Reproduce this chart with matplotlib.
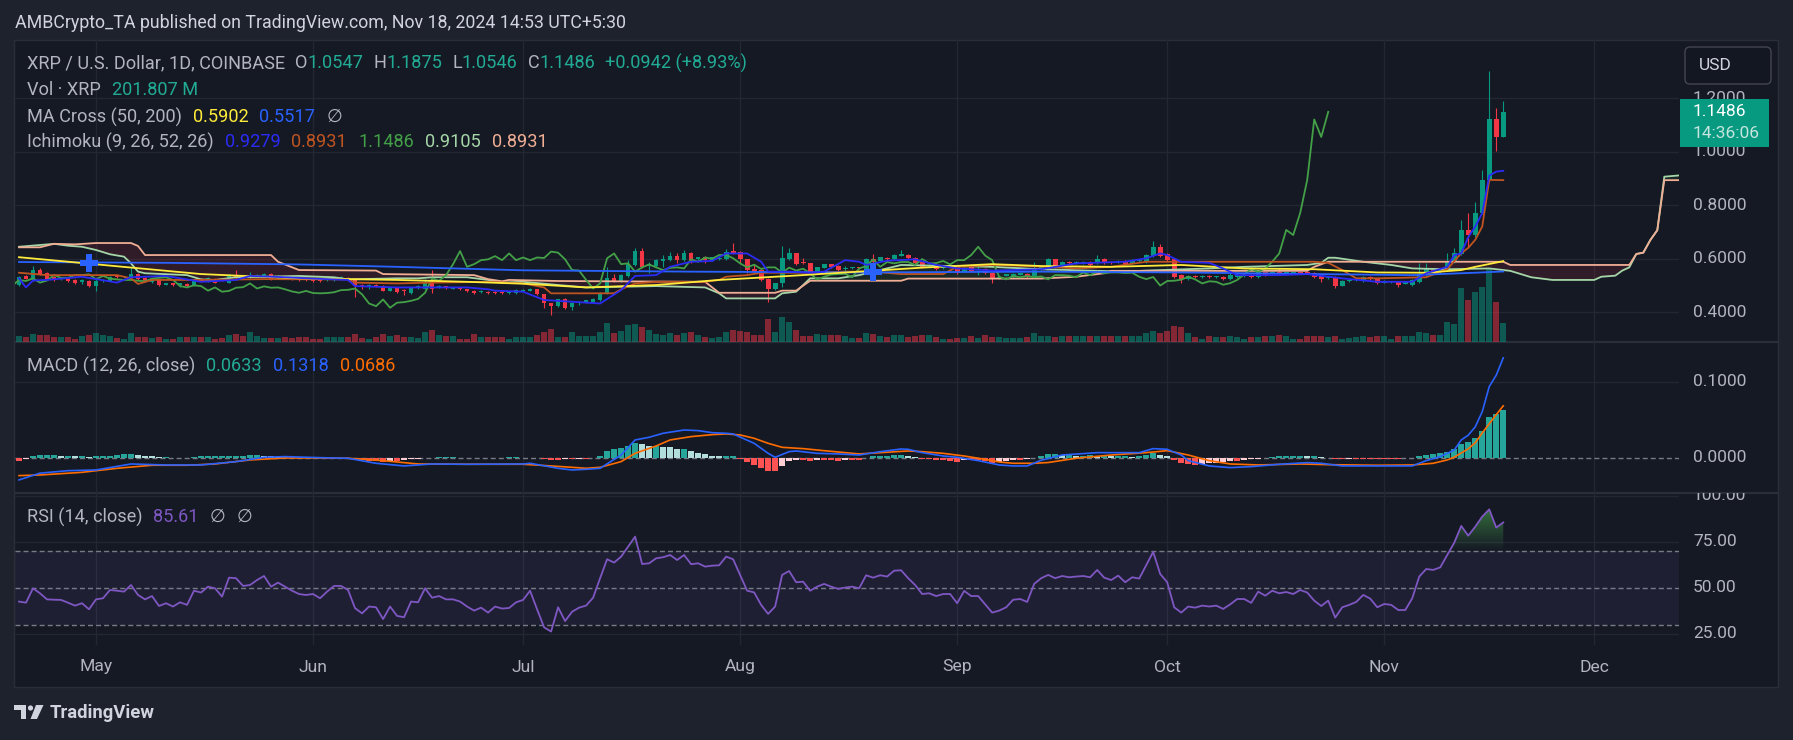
import matplotlib
matplotlib.use("Agg")
import matplotlib.pyplot as plt
from matplotlib.patches import Rectangle, FancyBboxPatch, Polygon, Circle
from matplotlib.colors import ListedColormap
from matplotlib.path import Path
import numpy as np
import pandas as pd

# ======================= DATA =======================
start_date = "2024-04-20"          # first daily candle
title_text = "AMBCrypto_TA published on TradingView.com, Nov 18, 2024 14:53 UTC+5:30"
symbol_text = "XRP / U.S. Dollar, 1D, COINBASE"
countdown = "14:36:06"
month_labels = ["May", "Jun", "Jul", "Aug", "Sep", "Oct", "Nov", "Dec"]
price_ticks = [0.4, 0.6, 0.8, 1.0, 1.2]
macd_ticks = [0.0, 0.1]
rsi_ticks = [25, 50, 75, 100]

open_ = [
    0.501, 0.535, 0.520, 0.557, 0.547, 0.530, 0.523, 0.527, 0.520, 0.513,
    0.516, 0.497, 0.517, 0.517, 0.537, 0.530, 0.528, 0.542, 0.528, 0.513,
    0.523, 0.502, 0.508, 0.502, 0.505, 0.500, 0.522, 0.516, 0.523, 0.522,
    0.510, 0.535, 0.535, 0.530, 0.532, 0.532, 0.542, 0.526, 0.533, 0.530,
    0.526, 0.526, 0.525, 0.522, 0.520, 0.520, 0.527, 0.528, 0.522, 0.500,
    0.492, 0.501, 0.497, 0.480, 0.492, 0.481, 0.472, 0.491, 0.488, 0.507,
    0.492, 0.493, 0.488, 0.488, 0.485, 0.480, 0.475, 0.476, 0.474, 0.476,
    0.470, 0.470, 0.479, 0.480, 0.485, 0.466, 0.432, 0.422, 0.449, 0.417,
    0.432, 0.439, 0.439, 0.445, 0.472, 0.528, 0.517, 0.535, 0.576, 0.628,
    0.572, 0.572, 0.591, 0.594, 0.609, 0.594, 0.622, 0.597, 0.607, 0.594,
    0.599, 0.597, 0.628, 0.626, 0.597, 0.561, 0.557, 0.523, 0.488, 0.507,
    0.599, 0.619, 0.586, 0.582, 0.551, 0.566, 0.578, 0.572, 0.561, 0.563,
    0.567, 0.560, 0.597, 0.592, 0.603, 0.597, 0.611, 0.613, 0.601, 0.588,
    0.573, 0.573, 0.563, 0.571, 0.569, 0.551, 0.569, 0.557, 0.560, 0.547,
    0.527, 0.536, 0.532, 0.540, 0.542, 0.535, 0.560, 0.569, 0.597, 0.569,
    0.588, 0.583, 0.583, 0.588, 0.582, 0.598, 0.587, 0.586, 0.591, 0.584,
    0.591, 0.588, 0.609, 0.642, 0.617, 0.597, 0.538, 0.522, 0.535, 0.530,
    0.536, 0.531, 0.532, 0.522, 0.530, 0.533, 0.538, 0.530, 0.548, 0.541,
    0.551, 0.546, 0.546, 0.548, 0.551, 0.547, 0.535, 0.528, 0.530, 0.499,
    0.515, 0.518, 0.517, 0.532, 0.526, 0.510, 0.511, 0.513, 0.506, 0.502,
    0.513, 0.538, 0.557, 0.548, 0.557, 0.588, 0.617, 0.707, 0.688, 0.771,
    0.894, 1.120, 1.0547]
high_ = [
    0.535, 0.538, 0.572, 0.563, 0.551, 0.535, 0.530, 0.530, 0.523, 0.523,
    0.520, 0.522, 0.525, 0.535, 0.540, 0.535, 0.569, 0.547, 0.532, 0.528,
    0.527, 0.510, 0.510, 0.510, 0.508, 0.523, 0.527, 0.530, 0.527, 0.525,
    0.542, 0.557, 0.538, 0.551, 0.542, 0.545, 0.545, 0.538, 0.537, 0.533,
    0.530, 0.529, 0.528, 0.526, 0.528, 0.532, 0.533, 0.532, 0.525, 0.503,
    0.503, 0.504, 0.500, 0.495, 0.495, 0.488, 0.494, 0.501, 0.522, 0.557,
    0.500, 0.496, 0.495, 0.491, 0.488, 0.483, 0.482, 0.479, 0.477, 0.479,
    0.477, 0.486, 0.487, 0.491, 0.488, 0.468, 0.435, 0.450, 0.452, 0.438,
    0.441, 0.446, 0.452, 0.476, 0.569, 0.542, 0.542, 0.594, 0.641, 0.638,
    0.588, 0.598, 0.613, 0.626, 0.619, 0.632, 0.626, 0.607, 0.610, 0.607,
    0.605, 0.636, 0.657, 0.629, 0.600, 0.576, 0.560, 0.526, 0.510, 0.647,
    0.641, 0.622, 0.601, 0.585, 0.570, 0.581, 0.581, 0.575, 0.572, 0.570,
    0.570, 0.601, 0.617, 0.607, 0.607, 0.617, 0.632, 0.617, 0.604, 0.591,
    0.580, 0.576, 0.570, 0.574, 0.572, 0.569, 0.572, 0.572, 0.563, 0.550,
    0.535, 0.543, 0.545, 0.547, 0.545, 0.588, 0.575, 0.601, 0.600, 0.590,
    0.591, 0.590, 0.590, 0.591, 0.613, 0.603, 0.590, 0.594, 0.594, 0.598,
    0.598, 0.617, 0.664, 0.654, 0.620, 0.601, 0.541, 0.538, 0.538, 0.538,
    0.539, 0.536, 0.535, 0.545, 0.541, 0.539, 0.541, 0.551, 0.551, 0.554,
    0.563, 0.551, 0.551, 0.551, 0.555, 0.550, 0.538, 0.534, 0.533, 0.519,
    0.520, 0.524, 0.535, 0.535, 0.529, 0.518, 0.516, 0.516, 0.511, 0.523,
    0.582, 0.582, 0.560, 0.566, 0.622, 0.638, 0.744, 0.769, 0.813, 0.931,
    1.301, 1.161, 1.1875]
low_ = [
    0.497, 0.522, 0.517, 0.538, 0.522, 0.517, 0.520, 0.513, 0.505, 0.505,
    0.494, 0.480, 0.513, 0.515, 0.527, 0.527, 0.525, 0.520, 0.513, 0.510,
    0.497, 0.500, 0.497, 0.492, 0.494, 0.497, 0.513, 0.513, 0.507, 0.515,
    0.507, 0.525, 0.525, 0.527, 0.530, 0.530, 0.520, 0.523, 0.522, 0.520,
    0.517, 0.516, 0.514, 0.512, 0.517, 0.517, 0.524, 0.517, 0.457, 0.488,
    0.488, 0.494, 0.477, 0.477, 0.472, 0.464, 0.469, 0.488, 0.485, 0.472,
    0.489, 0.488, 0.485, 0.482, 0.474, 0.469, 0.472, 0.468, 0.467, 0.468,
    0.467, 0.467, 0.476, 0.477, 0.462, 0.414, 0.389, 0.418, 0.412, 0.407,
    0.428, 0.435, 0.436, 0.442, 0.469, 0.513, 0.514, 0.532, 0.572, 0.565,
    0.545, 0.569, 0.569, 0.591, 0.582, 0.591, 0.584, 0.594, 0.584, 0.591,
    0.595, 0.594, 0.618, 0.582, 0.547, 0.551, 0.517, 0.437, 0.484, 0.492,
    0.594, 0.576, 0.579, 0.547, 0.547, 0.563, 0.563, 0.554, 0.555, 0.560,
    0.560, 0.557, 0.584, 0.589, 0.596, 0.594, 0.608, 0.598, 0.579, 0.563,
    0.570, 0.557, 0.560, 0.563, 0.543, 0.548, 0.551, 0.538, 0.541, 0.507,
    0.524, 0.533, 0.529, 0.537, 0.527, 0.532, 0.557, 0.566, 0.566, 0.566,
    0.579, 0.580, 0.580, 0.573, 0.579, 0.578, 0.580, 0.583, 0.575, 0.581,
    0.588, 0.585, 0.606, 0.607, 0.590, 0.528, 0.510, 0.518, 0.527, 0.527,
    0.527, 0.528, 0.519, 0.519, 0.527, 0.530, 0.527, 0.527, 0.535, 0.538,
    0.541, 0.543, 0.543, 0.543, 0.544, 0.529, 0.513, 0.525, 0.489, 0.496,
    0.512, 0.515, 0.514, 0.519, 0.504, 0.507, 0.508, 0.495, 0.503, 0.499,
    0.510, 0.535, 0.548, 0.545, 0.554, 0.585, 0.613, 0.644, 0.682, 0.765,
    0.885, 1.003, 1.0546]
close_ = [
    0.530, 0.525, 0.557, 0.542, 0.525, 0.522, 0.527, 0.515, 0.510, 0.520,
    0.497, 0.517, 0.521, 0.532, 0.530, 0.532, 0.542, 0.523, 0.517, 0.525,
    0.501, 0.507, 0.500, 0.507, 0.497, 0.520, 0.516, 0.526, 0.510, 0.518,
    0.538, 0.528, 0.528, 0.538, 0.538, 0.541, 0.523, 0.535, 0.525, 0.522,
    0.520, 0.520, 0.517, 0.515, 0.525, 0.528, 0.530, 0.520, 0.497, 0.492,
    0.500, 0.497, 0.480, 0.492, 0.476, 0.479, 0.491, 0.493, 0.507, 0.488,
    0.496, 0.491, 0.492, 0.485, 0.477, 0.472, 0.479, 0.471, 0.470, 0.471,
    0.474, 0.482, 0.483, 0.488, 0.466, 0.432, 0.422, 0.447, 0.416, 0.435,
    0.437, 0.442, 0.449, 0.472, 0.526, 0.517, 0.538, 0.579, 0.628, 0.569,
    0.579, 0.594, 0.597, 0.609, 0.594, 0.619, 0.594, 0.604, 0.594, 0.604,
    0.602, 0.626, 0.622, 0.597, 0.557, 0.555, 0.520, 0.488, 0.507, 0.601,
    0.619, 0.579, 0.582, 0.551, 0.567, 0.578, 0.567, 0.557, 0.565, 0.567,
    0.563, 0.597, 0.588, 0.604, 0.599, 0.613, 0.614, 0.601, 0.582, 0.567,
    0.577, 0.561, 0.567, 0.567, 0.547, 0.566, 0.555, 0.562, 0.545, 0.522,
    0.532, 0.540, 0.542, 0.543, 0.530, 0.563, 0.572, 0.597, 0.569, 0.587,
    0.582, 0.587, 0.587, 0.576, 0.598, 0.582, 0.583, 0.591, 0.578, 0.594,
    0.594, 0.613, 0.644, 0.611, 0.594, 0.532, 0.522, 0.535, 0.530, 0.535,
    0.530, 0.533, 0.522, 0.538, 0.538, 0.536, 0.530, 0.548, 0.538, 0.551,
    0.545, 0.548, 0.548, 0.546, 0.547, 0.532, 0.523, 0.531, 0.499, 0.516,
    0.517, 0.521, 0.532, 0.522, 0.507, 0.515, 0.513, 0.502, 0.508, 0.520,
    0.541, 0.560, 0.551, 0.563, 0.588, 0.619, 0.707, 0.688, 0.771, 0.894,
    1.120, 1.0544, 1.1486]
volume_m = [
    64, 53, 85, 74, 74, 53, 53, 53, 32, 64,
    74, 96, 74, 64, 42, 32, 96, 53, 53, 42,
    53, 32, 32, 53, 53, 53, 53, 53, 32, 42,
    74, 85, 64, 106, 64, 42, 42, 42, 53, 42,
    53, 53, 32, 32, 53, 53, 53, 53, 85, 42,
    32, 53, 85, 64, 74, 53, 53, 42, 106, 127,
    74, 64, 64, 32, 32, 85, 53, 53, 53, 53,
    32, 53, 53, 53, 74, 106, 138, 53, 53, 106,
    64, 64, 64, 106, 202, 96, 117, 181, 191, 159,
    127, 85, 74, 96, 74, 96, 106, 74, 53, 42,
    53, 106, 127, 117, 106, 74, 74, 244, 106, 266,
    212, 127, 64, 64, 85, 74, 74, 74, 64, 42,
    42, 96, 85, 64, 53, 74, 74, 53, 64, 74,
    74, 53, 32, 32, 42, 42, 64, 42, 74, 53,
    53, 42, 42, 42, 53, 96, 64, 67, 50, 67,
    60, 60, 67, 67, 60, 60, 60, 67, 60, 67,
    67, 96, 120, 96, 120, 173, 159, 96, 50, 35,
    60, 50, 50, 67, 50, 35, 50, 50, 67, 60,
    78, 60, 35, 35, 60, 60, 60, 50, 67, 35,
    42, 50, 60, 50, 60, 67, 35, 60, 60, 60,
    106, 96, 78, 78, 216, 195, 573, 450, 531, 584,
    786, 425, 201.807]

# MA Cross (50, 200)
ma50_days = [0, 12, 26, 40, 54, 64, 72, 81, 91, 100, 110, 120, 129, 139, 146, 156,
             166, 175, 185, 194, 201, 206, 208, 212]
ma50_vals = [0.605, 0.576, 0.542, 0.526, 0.520, 0.513, 0.506, 0.492, 0.501, 0.520,
             0.535, 0.551, 0.566, 0.579, 0.572, 0.569, 0.576, 0.563, 0.560, 0.548,
             0.547, 0.557, 0.569, 0.5902]
ma200_days = [0, 21, 40, 54, 72, 96, 120, 146, 166, 185, 199, 208, 212]
ma200_vals = [0.587, 0.584, 0.578, 0.569, 0.556, 0.551, 0.548, 0.551, 0.548, 0.542,
              0.538, 0.547, 0.5517]
cross_days = [10, 122]
cross_vals = [0.585, 0.551]

# Ichimoku (9, 26, 52, 26)
lag_shift = 25
conv_days = [0, 1, 2, 4, 9, 14, 16, 21, 24, 26, 31, 33, 38, 42, 47, 48, 54, 59, 64, 67,
             68, 72, 75, 83, 86, 88, 91, 93, 96, 99, 101, 104, 106, 107, 110, 113, 115,
             118, 120, 121, 124, 128, 131, 134, 139, 146, 151, 158, 161, 163, 164, 166,
             170, 172, 174, 180, 184, 187, 189, 194, 199, 201, 204, 205, 206, 207, 208,
             209, 210, 211, 212]
conv_vals = [0.526, 0.492, 0.518, 0.520, 0.532, 0.510, 0.530, 0.535, 0.522, 0.513,
             0.520, 0.535, 0.530, 0.525, 0.520, 0.497, 0.492, 0.492, 0.492, 0.485,
             0.480, 0.476, 0.445, 0.432, 0.482, 0.535, 0.538, 0.569, 0.588, 0.591,
             0.619, 0.619, 0.588, 0.551, 0.551, 0.547, 0.551, 0.594, 0.588, 0.576,
             0.592, 0.597, 0.576, 0.563, 0.555, 0.560, 0.582, 0.588, 0.601, 0.619,
             0.613, 0.588, 0.584, 0.563, 0.538, 0.538, 0.542, 0.532, 0.526, 0.513,
             0.513, 0.545, 0.569, 0.613, 0.619, 0.680, 0.720, 0.770, 0.910, 0.925,
             0.9279]
base_days = [0, 4, 14, 16, 17, 19, 26, 35, 47, 48, 54, 59, 67, 72, 75, 76, 85, 86, 88, 91,
             98, 100, 101, 104, 106, 113, 118, 122, 126, 132, 134, 139, 146, 151, 156,
             161, 185, 187, 189, 191, 194, 201, 203, 204, 205, 206, 207, 208, 209, 210,
             212]
base_vals = [0.547, 0.538, 0.538, 0.526, 0.505, 0.520, 0.520, 0.523, 0.522, 0.510,
             0.507, 0.510, 0.513, 0.507, 0.492, 0.470, 0.470, 0.485, 0.507, 0.513,
             0.513, 0.520, 0.532, 0.538, 0.547, 0.547, 0.551, 0.551, 0.542, 0.542,
             0.569, 0.576, 0.570, 0.563, 0.569, 0.588, 0.588, 0.584, 0.557, 0.526,
             0.526, 0.530, 0.551, 0.560, 0.590, 0.620, 0.640, 0.670, 0.720, 0.894,
             0.8931]
leadA_days = [0, 5, 7, 9, 11, 13, 15, 16, 17, 18, 24, 26, 28, 31, 40, 45, 47, 54, 57, 59,
              64, 67, 69, 72, 77, 81, 91, 98, 100, 101, 108, 109, 111, 113, 117, 120,
              126, 139, 146, 158, 161, 170, 175, 184, 186, 187, 188, 192, 196, 199, 204,
              210, 213, 216, 219, 225, 226, 228, 229, 230, 231, 232, 233, 234, 235, 237]
leadA_vals = [0.644, 0.655, 0.648, 0.644, 0.632, 0.616, 0.607, 0.582, 0.551, 0.545,
              0.538, 0.522, 0.520, 0.530, 0.535, 0.530, 0.522, 0.526, 0.526, 0.530,
              0.530, 0.520, 0.510, 0.513, 0.501, 0.492, 0.497, 0.492, 0.470, 0.451,
              0.451, 0.470, 0.476, 0.526, 0.526, 0.538, 0.576, 0.569, 0.560, 0.551,
              0.555, 0.563, 0.569, 0.576, 0.584, 0.603, 0.603, 0.588, 0.576, 0.563,
              0.560, 0.563, 0.554, 0.530, 0.520, 0.520, 0.532, 0.536, 0.555, 0.567,
              0.617, 0.622, 0.669, 0.706, 0.906, 0.9105]
leadB_days = [0, 3, 5, 8, 11, 16, 17, 18, 36, 37, 40, 51, 52, 65, 67, 69, 70, 77, 98, 100,
              108, 109, 111, 113, 126, 127, 146, 151, 155, 156, 184, 185, 187, 212, 213,
              230, 231, 232, 233, 234, 235, 237]
leadB_vals = [0.642, 0.642, 0.655, 0.653, 0.658, 0.658, 0.647, 0.613, 0.613, 0.588,
              0.557, 0.555, 0.542, 0.538, 0.523, 0.515, 0.520, 0.516, 0.513, 0.472,
              0.472, 0.480, 0.480, 0.517, 0.517, 0.525, 0.525, 0.532, 0.545, 0.554,
              0.554, 0.569, 0.588, 0.588, 0.576, 0.576, 0.617, 0.622, 0.669, 0.706,
              0.893, 0.8931]

# MACD (12, 26, close)
macd_days = [0, 3, 7, 11, 16, 21, 26, 31, 35, 38, 43, 47, 51, 55, 59, 64, 72, 73, 77, 79,
             81, 83, 86, 88, 90, 92, 95, 97, 99, 101, 102, 105, 107, 108, 110, 111, 114,
             117, 120, 123, 126, 127, 129, 132, 134, 137, 140, 142, 144, 146, 149, 154,
             160, 162, 164, 166, 167, 170, 173, 176, 180, 184, 186, 189, 194, 199, 201,
             203, 204, 205, 206, 207, 208, 209, 210, 211, 212]
macd_vals = [-0.0289, -0.0200, -0.0167, -0.0158, -0.0079, -0.0092, -0.0092, -0.0048,
             0.0009, 0.0018, 0.0004, -0.0004, -0.0070, -0.0105, -0.0079, -0.0083,
             -0.0079, -0.0070, -0.0136, -0.0158, -0.0149, -0.0136, 0.0039, 0.0237,
             0.0272, 0.0325, 0.0368, 0.0360, 0.0333, 0.0325, 0.0316, 0.0193, 0.0061,
             0.0009, 0.0083, 0.0092, 0.0061, 0.0053, 0.0039, 0.0083, 0.0118, 0.0114,
             0.0070, 0.0026, 0.0009, -0.0035, -0.0092, -0.0105, -0.0105, -0.0030,
             0.0039, 0.0070, 0.0070, 0.0123, 0.0114, 0.0039, -0.0035, -0.0105, -0.0127,
             -0.0114, -0.0083, -0.0061, -0.0070, -0.0105, -0.0105, -0.0105, -0.0035,
             0.0018, 0.0060, 0.0105, 0.0237, 0.0300, 0.0410, 0.0610, 0.0940, 0.1090,
             0.1318]
signal_days = [0, 3, 9, 14, 19, 24, 28, 33, 38, 43, 47, 52, 57, 64, 72, 76, 79, 81, 83, 86,
               88, 91, 93, 96, 99, 101, 103, 105, 107, 109, 112, 115, 118, 120, 123, 127,
               129, 132, 135, 138, 140, 142, 145, 147, 151, 156, 161, 164, 167, 170, 173,
               177, 183, 187, 194, 199, 202, 204, 205, 206, 207, 208, 209, 210, 211, 212]
signal_vals = [-0.0232, -0.0224, -0.0189, -0.0136, -0.0096, -0.0096, -0.0079, -0.0026,
               0.0, 0.0, -0.0004, -0.0035, -0.0079, -0.0083, -0.0083, -0.0105, -0.0123,
               -0.0136, -0.0123, -0.0048, 0.0061, 0.0158, 0.0237, 0.0281, 0.0307, 0.0316,
               0.0303, 0.0259, 0.0193, 0.0140, 0.0123, 0.0096, 0.0070, 0.0053, 0.0070,
               0.0092, 0.0083, 0.0061, 0.0026, -0.0018, -0.0053, -0.0070, -0.0070,
               -0.0060, -0.0004, 0.0039, 0.0070, 0.0096, 0.0039, -0.0035, -0.0079,
               -0.0092, -0.0079, -0.0088, -0.0096, -0.0092, -0.0070, -0.0026, 0.0010,
               0.0066, 0.0120, 0.0200, 0.0330, 0.0450, 0.0570, 0.0686]
hist = [
    -0.004, -0.002, 0.003, 0.004, 0.004, 0.004, 0.003, 0.003, 0.002, 0.002,
    0.001, 0.002, 0.003, 0.003, 0.004, 0.005, 0.005, 0.004, 0.003, 0.002,
    0.001, 0.001, 0.0, -0.0005, 0.0, 0.001, 0.002, 0.002, 0.002, 0.003,
    0.003, 0.003, 0.003, 0.004, 0.004, 0.003, 0.002, 0.001, 0.001, 0.0005,
    0.0, 0.0, 0.0, -0.0005, -0.001, -0.001, -0.001, -0.001, -0.002, -0.003,
    -0.004, -0.004, -0.005, -0.004, -0.004, -0.003, -0.002, -0.001, 0.0, 0.0005,
    0.001, 0.001, 0.001, 0.0005, 0.0, -0.0005, -0.0005, -0.0005, 0.0, 0.0005,
    0.001, 0.001, 0.0005, 0.0003, -0.0003, -0.002, -0.003, -0.003, -0.002, -0.002,
    -0.001, -0.001, 0.0005, 0.003, 0.009, 0.012, 0.013, 0.016, 0.020, 0.019,
    0.016, 0.016, 0.015, 0.014, 0.012, 0.012, 0.009, 0.006, 0.005, 0.003,
    0.002, 0.002, 0.002, -0.001, -0.005, -0.009, -0.013, -0.017, -0.017, -0.011,
    -0.004, -0.003, -0.003, -0.004, -0.003, -0.003, -0.003, -0.004, -0.003, -0.003,
    -0.003, -0.0005, 0.002, 0.003, 0.003, 0.004, 0.004, 0.002, 0.001, -0.001,
    -0.002, -0.003, -0.003, -0.004, -0.005, -0.003, -0.003, -0.003, -0.004, -0.006,
    -0.005, -0.004, -0.003, -0.003, -0.002, 0.0, 0.003, 0.005, 0.005, 0.004,
    0.004, 0.003, 0.003, 0.004, 0.003, 0.003, 0.002, 0.002, 0.002, 0.001,
    0.002, 0.004, 0.006, 0.004, 0.002, -0.003, -0.006, -0.008, -0.009, -0.008,
    -0.007, -0.006, -0.005, -0.004, -0.004, -0.003, -0.002, -0.001, 0.0005, 0.001,
    0.002, 0.002, 0.003, 0.003, 0.002, 0.002, 0.001, 0.0, -0.002, -0.002,
    -0.001, -0.001, -0.001, -0.001, -0.001, -0.001, -0.001, -0.001, -0.0005, 0.0005,
    0.002, 0.004, 0.005, 0.006, 0.008, 0.0114, 0.018, 0.0206, 0.026, 0.036,
    0.054, 0.058, 0.0633]

# RSI (14, close)
rsi = [
    42.6, 42.0, 49.8, 47.1, 43.8, 43.6, 43.5, 42.0, 40.4, 41.7,
    38.4, 43.8, 44.4, 48.9, 48.5, 48.0, 51.6, 46.2, 43.8, 45.6,
    40.2, 41.7, 39.9, 42.2, 40.8, 48.5, 47.5, 50.7, 49.8, 45.3,
    55.6, 55.3, 51.1, 51.6, 54.3, 56.5, 50.7, 52.9, 50.7, 48.5,
    46.7, 46.2, 46.7, 44.4, 48.0, 51.1, 51.1, 48.9, 39.0, 36.2,
    39.9, 39.5, 33.1, 39.9, 34.8, 34.1, 42.6, 42.2, 49.8, 44.7,
    45.6, 43.8, 43.8, 42.6, 39.9, 37.7, 39.3, 36.6, 39.9, 38.8,
    39.1, 42.2, 43.5, 48.5, 38.4, 28.6, 26.3, 39.5, 32.0, 37.1,
    39.3, 40.4, 44.7, 55.3, 65.6, 63.8, 67.0, 72.5, 77.9, 63.0,
    63.4, 66.1, 66.7, 67.9, 65.2, 67.9, 62.9, 63.4, 61.6, 62.1,
    62.3, 67.0, 65.6, 57.1, 48.5, 47.6, 40.8, 35.9, 39.9, 57.1,
    59.2, 53.1, 53.4, 48.5, 50.7, 52.2, 50.7, 49.5, 50.2, 50.7,
    49.8, 56.9, 55.6, 56.9, 56.2, 59.4, 59.6, 55.3, 51.6, 46.7,
    47.1, 45.6, 46.7, 46.7, 41.7, 48.4, 45.6, 45.6, 41.1, 36.6,
    37.7, 39.5, 43.6, 44.0, 42.4, 52.2, 55.3, 57.1, 55.3, 56.5,
    55.8, 56.2, 56.5, 55.8, 59.8, 55.6, 54.3, 56.7, 53.1, 55.8,
    55.1, 62.3, 69.6, 57.6, 53.1, 39.5, 36.6, 39.9, 39.3, 40.4,
    39.9, 40.4, 38.6, 41.1, 44.0, 44.0, 41.9, 48.0, 45.8, 48.5,
    47.1, 47.8, 46.7, 48.9, 47.5, 43.1, 40.2, 43.1, 33.9, 39.5,
    40.8, 42.4, 46.2, 44.2, 39.5, 41.3, 40.8, 38.0, 38.0, 44.4,
    56.2, 60.3, 59.8, 61.2, 67.9, 74.6, 83.7, 78.4, 83.3, 88.8,
    92.7, 82.8, 85.61]

# ======================= STYLE / LAYOUT =======================
FONT = ['Roboto', 'DejaVu Sans']
BG_OUT = '#1e222d'
BG_CHART = '#151924'
GRID = '#232733'
BORDER = '#2a2e39'
TXT = '#b2b5be'
TEAL_TXT = '#22ab94'
UP, DN = '#089981', '#f23645'

W, H = 1793, 740
fig = plt.figure(figsize=(W / 100, H / 100), dpi=100)
fig.patch.set_facecolor(BG_OUT)
renderer = fig.canvas.get_renderer()

PL, PR, AR = 15, 1679, 1778          # plot left, plot right, price-scale right
YT, Y1, Y2, Y3, YB = 40, 342, 493, 645, 687

def rect(x0, y0, x1, y1):
    return [x0 / W, 1 - y1 / H, (x1 - x0) / W, (y1 - y0) / H]

def text_width(s, size, weight='normal'):
    t = fig.text(0, 0, s, fontsize=size, family=FONT, weight=weight)
    w = t.get_window_extent(renderer).width
    t.remove()
    return w

def fit(s, px, weight='normal'):
    return 10 * px / text_width(s, 10, weight)

TITLE_SIZE = fit(title_text, 612)
LEG_SIZE = fit(symbol_text, 258)
AX_SIZE = fit("0.8000", 53)
TIME_SIZE = fit("May", 33)
LOGO_SIZE = fit("TradingView", 105, 'bold')

n = len(close_)
for arr in (open_, high_, low_, volume_m, hist, rsi):
    assert len(arr) == n, len(arr)
days = np.arange(n)
o, h, l, c = map(np.array, (open_, high_, low_, close_))
vol = np.array(volume_m)
start = pd.Timestamp(start_date)
month_days = [(pd.Timestamp(2024, m, 1) - start).days for m in range(5, 13)]

XLIM = (-0.57, 237.1)
PRICE_LIM = (0.288, 1.417)
VOL_LIM = (0, 3207)
MACD_LIM = (-0.0461, 0.1526)
RSI_LIM = (19.0, 101.6)

# ---------- background / frame ----------
bg = fig.add_axes([0, 0, 1, 1], zorder=-10)
bg.set_xlim(0, W); bg.set_ylim(H, 0); bg.axis('off')
bg.add_patch(Rectangle((PL - 1, YT), AR - PL + 1, YB - YT, fc=BG_CHART, ec=BORDER, lw=1))
for yy in (Y1, Y2):
    bg.plot([PL - 1, AR], [yy, yy], color=BORDER, lw=1.6, solid_capstyle='butt')

def make_ax(y0, y1, ylim, z=1):
    ax = fig.add_axes(rect(PL, y0, PR, y1), zorder=z)
    ax.set_facecolor('none'); ax.set_xlim(XLIM); ax.set_ylim(ylim); ax.axis('off')
    return ax

def make_right(y0, y1, ylim):
    ax = fig.add_axes(rect(PR, y0, AR, y1), zorder=1)
    ax.set_facecolor('none'); ax.set_xlim(0, 1); ax.set_ylim(ylim); ax.axis('off')
    return ax

LBL_X = 14 / (AR - PR)

# ---------- price pane ----------
ax_grid = make_ax(YT, Y1, PRICE_LIM, z=0)
ax_vol = make_ax(YT, Y1, VOL_LIM, z=1)
ax = make_ax(YT, Y1, PRICE_LIM, z=2)
axr = make_right(YT, Y1, PRICE_LIM)

for v in price_ticks:
    ax_grid.axhline(v, color=GRID, lw=1)
for d in month_days:
    ax_grid.axvline(d, color=GRID, lw=1)

up = c >= o
vcol = [(8/255, 153/255, 129/255, 0.5) if u else (242/255, 54/255, 69/255, 0.5) for u in up]
ax_vol.bar(days, vol, width=0.8, color=vcol, linewidth=0)

# Ichimoku cloud
xs = np.union1d(leadA_days, leadB_days).astype(float)
ya = np.interp(xs, leadA_days, leadA_vals)
yb = np.interp(xs, leadB_days, leadB_vals)
ax.fill_between(xs, ya, yb, where=ya >= yb, interpolate=True, color='#43a047', alpha=0.12, lw=0, zorder=1)
ax.fill_between(xs, ya, yb, where=ya < yb, interpolate=True, color='#f23645', alpha=0.12, lw=0, zorder=1)

# candles
ccol = np.where(up, UP, DN)
ppx = (PRICE_LIM[1] - PRICE_LIM[0]) / (Y1 - YT)
ax.vlines(days, l, h, colors=ccol, lw=0.8, zorder=3)
body_lo = np.minimum(o, c)
body_h = np.maximum(np.abs(c - o), 1.2 * ppx)
ax.bar(days, body_h, bottom=body_lo, width=0.68, color=ccol, linewidth=0, zorder=3.1)

# indicator lines
ax.plot(leadA_days, leadA_vals, color='#a5d6a7', lw=1.3, zorder=4)
ax.plot(leadB_days, leadB_vals, color='#f0ae94', lw=1.3, zorder=4)
ax.plot(days - lag_shift, c, color='#43a047', lw=1.3, zorder=4)
ax.plot(base_days, base_vals, color='#bf5420', lw=1.3, zorder=4.1)
ax.plot(ma200_days, ma200_vals, color='#2962ff', lw=1.3, zorder=4.2)
ax.plot(ma50_days, ma50_vals, color='#ffeb3b', lw=1.3, zorder=4.3)
ax.plot(conv_days, conv_vals, color='#2b2bf5', lw=1.3, zorder=4.4)
ax.plot(cross_days, cross_vals, ls='none', marker='P', ms=12.5, mew=0, color='#2962ff', zorder=6)

for v in price_ticks:
    axr.text(LBL_X, v, f"{v:.4f}", color=TXT, fontsize=AX_SIZE, family=FONT,
             ha='left', va='center', clip_on=True, zorder=3)
last = close_[-1]
axr.add_patch(Rectangle((0.01, last - 35.3 * ppx), 0.9, 48 * ppx, fc=UP, ec='none', zorder=10))
axr.text(LBL_X, last, f"{last:.4f}", color='white', fontsize=AX_SIZE, family=FONT,
         ha='left', va='center', zorder=11)
axr.text(LBL_X, last - 22 * ppx, countdown, color='#c4e6de', fontsize=AX_SIZE, family=FONT,
         ha='left', va='center', zorder=11)

# ---------- MACD pane ----------
axm = make_ax(Y1, Y2, MACD_LIM)
axmr = make_right(Y1, Y2, MACD_LIM)
for d in month_days:
    axm.axvline(d, color=GRID, lw=1, zorder=0)
axm.axhline(0.1, color=GRID, lw=1, zorder=0)
axm.axhline(0.0, color='#787b86', lw=1, ls=(0, (3.6, 2.2)), zorder=0.5)
hv = np.array(hist)
prev = np.concatenate([[hv[0]], hv[:-1]])
hcol = np.where(hv >= 0, np.where(hv >= prev, '#26a69a', '#b2dfdb'),
                np.where(hv > prev, '#ffcdd2', '#ff5252'))
axm.bar(days, hv, width=0.8, color=hcol, linewidth=0, zorder=1)
axm.plot(signal_days, signal_vals, color='#ff6d00', lw=1.2, zorder=2)
axm.plot(macd_days, macd_vals, color='#2962ff', lw=1.2, zorder=2.1)
for v in macd_ticks:
    axmr.text(LBL_X, v, f"{v:.4f}", color=TXT, fontsize=AX_SIZE, family=FONT,
              ha='left', va='center', clip_on=True)

# ---------- RSI pane ----------
axs = make_ax(Y2, Y3, RSI_LIM)
axsr = make_right(Y2, Y3, RSI_LIM)
for d in month_days:
    axs.axvline(d, color=GRID, lw=1, zorder=0)
for v in (25, 75, 100):
    axs.axhline(v, color=GRID, lw=1, zorder=0)
axs.axhspan(30, 70, color='#7e57c2', alpha=0.1, lw=0, zorder=0.2)
for v in (70, 50, 30):
    axs.axhline(v, color='#787b86', lw=1, ls=(0, (3.6, 2.2)), zorder=0.5)
r = np.array(rsi)

def gradient_fill(where, level, far, rgb, amax):
    coll = axs.fill_between(days, r, level, where=where, interpolate=True,
                            facecolor='none', edgecolor='none', lw=0)
    paths = coll.get_paths()
    if not paths:
        return
    clip = Path.make_compound_path(*paths)
    ramp = np.zeros((256, 4)); ramp[:, :3] = rgb; ramp[:, 3] = np.linspace(0.0, amax, 256)
    g = np.linspace(0, 1, 256).reshape(-1, 1)
    lo, hi = (level, far) if far > level else (far, level)
    img = g if far > level else g[::-1]
    im = axs.imshow(img, extent=[XLIM[0], XLIM[1], lo, hi], origin='lower', aspect='auto',
                    cmap=ListedColormap(ramp), vmin=0, vmax=1, zorder=1, interpolation='bilinear')
    im.set_clip_path(clip, transform=axs.transData)

gradient_fill(r > 70, 70, 100, (0.30, 0.69, 0.31), 0.75)
gradient_fill(r < 30, 30, 0, (0.95, 0.21, 0.27), 0.75)
axs.set_xlim(XLIM); axs.set_ylim(RSI_LIM)
axs.plot(days, r, color='#7e57c2', lw=1.3, zorder=2)
for v in rsi_ticks:
    axsr.text(LBL_X, v, f"{v:.2f}", color=TXT, fontsize=AX_SIZE, family=FONT,
              ha='left', va='center', clip_on=True)

# time axis labels
for d, lab in zip(month_days, month_labels):
    axs.text(d, -(667 - Y3) / (Y3 - Y2), lab, transform=axs.get_xaxis_transform(),
             color=TXT, fontsize=TIME_SIZE, family=FONT, ha='center', va='center')

# ---------- legends ----------
def seq(x0, y, parts, size=LEG_SIZE):
    x = x0
    for s, col, gap in parts:
        x += gap
        t = fig.text(x / W, 1 - y / H, s, color=col, fontsize=size, family=FONT,
                     ha='left', va='center')
        x += t.get_window_extent(renderer).width

fig.text(15 / W, 1 - 23 / H, title_text, color='#d1d4dc', fontsize=TITLE_SIZE,
         family=FONT, ha='left', va='center')

chg = close_[-1] - close_[-2]
pct = chg / close_[-2] * 100
G = 10
seq(27, 63, [(symbol_text, TXT, 0),
             ("O", TXT, G), (f"{open_[-1]:.4f}", TEAL_TXT, 0),
             ("H", TXT, G), (f"{high_[-1]:.4f}", TEAL_TXT, 0),
             ("L", TXT, G), (f"{low_[-1]:.4f}", TEAL_TXT, 0),
             ("C", TXT, G), (f"{close_[-1]:.4f}", TEAL_TXT, 0),
             (f"{chg:+.4f} ({pct:+.2f}%)", TEAL_TXT, G)])
seq(27, 90, [("Vol \u00b7 XRP", TXT, 0), (f"{volume_m[-1]:.3f} M", TEAL_TXT, 11)])
seq(27, 117, [("MA Cross (50, 200)", TXT, 0), (f"{ma50_vals[-1]:.4f}", '#ffeb3b', 11),
              (f"{ma200_vals[-1]:.4f}", '#2962ff', 11), ("\u2205", TXT, 11)])
seq(27, 142, [("Ichimoku (9, 26, 52, 26)", TXT, 0),
              (f"{conv_vals[-1]:.4f}", '#2b2bf5', 11),
              (f"{base_vals[-1]:.4f}", '#bf5420', 11),
              (f"{close_[-1]:.4f}", '#43a047', 11),
              (f"{leadA_vals[-1]:.4f}", '#a5d6a7', 11),
              (f"{leadB_vals[-1]:.4f}", '#f0ae94', 11)])
seq(27, 366, [("MACD (12, 26, close)", TXT, 0), (f"{hist[-1]:.4f}", TEAL_TXT, 11),
              (f"{macd_vals[-1]:.4f}", '#2962ff', 11), (f"{signal_vals[-1]:.4f}", '#ff6d00', 11)])
seq(27, 517, [("RSI (14, close)", TXT, 0), (f"{rsi[-1]:.2f}", '#7e57c2', 11),
              ("\u2205", TXT, 11), ("\u2205", TXT, 11)])

# ---------- USD button ----------
bg.add_patch(FancyBboxPatch((1685, 47), 86, 37, boxstyle='round,pad=0,rounding_size=5',
                            fc='#131722', ec='#434651', lw=1))
bg.text(1699, 65.5, "USD", color='#d1d4dc', fontsize=AX_SIZE, family=FONT, ha='left', va='center')

# ---------- TradingView logo ----------
LOGO = '#d1d4dc'
bg.add_patch(Rectangle((14, 705), 12, 5, fc=LOGO, ec='none'))
bg.add_patch(Rectangle((20.5, 705), 5.5, 14, fc=LOGO, ec='none'))
bg.add_patch(Circle((30.5, 708), 2.6, fc=LOGO, ec='none'))
bg.add_patch(Polygon([(36, 705), (43.5, 705), (37, 719), (30.5, 719)], closed=True, fc=LOGO, ec='none'))
bg.text(50, 713, "TradingView", color=LOGO, fontsize=LOGO_SIZE, family=FONT,
        weight='bold', ha='left', va='center')

fig.savefig("out.png", dpi=100, facecolor=fig.get_facecolor())
